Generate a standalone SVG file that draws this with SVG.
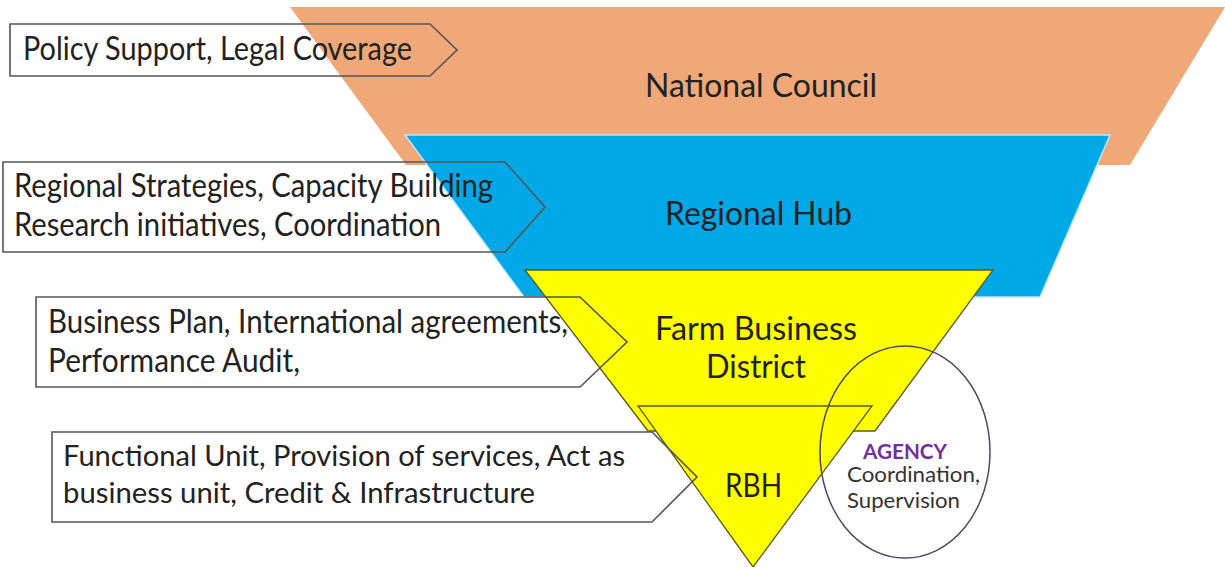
<svg xmlns="http://www.w3.org/2000/svg" width="1225" height="567" viewBox="0 0 1225 567">
<style>
.t{font-family:Lato,"Open Sans","Liberation Sans",sans-serif;fill:#222;font-size:32px}
.u{font-family:Lato,"Open Sans","Liberation Sans",sans-serif;fill:#222;font-size:29px}
.s{font-family:Lato,"Open Sans","Liberation Sans",sans-serif;fill:#333;font-size:21px}
.co{fill:none;stroke:#555;stroke-width:1.6}
.yl{fill:#FFFF00;stroke:#5a5a10;stroke-width:1.3}
</style>
<rect width="1225" height="567" fill="#fff"/>
<g id="national-council">
<polygon points="290,7 1225,7 1130,165 406,165" fill="#F0A878"/>
<text class="t" x="645" y="97" textLength="232" lengthAdjust="spacingAndGlyphs">National Council</text>
</g>
<g id="regional-hub">
<polygon points="405,135 1110,135 1040,297 524,297" fill="#00A8E8" stroke="#bfe6f5" stroke-width="1.5"/>
<text class="t" x="665" y="225" textLength="187" lengthAdjust="spacingAndGlyphs">Regional Hub</text>
</g>
<g id="farm-business-district">
<polygon class="yl" points="525,270 993,270 875,431 648,431"/>
<text class="t" x="655" y="340" textLength="202" lengthAdjust="spacingAndGlyphs">Farm Business</text>
<text class="t" x="706" y="378" textLength="100" lengthAdjust="spacingAndGlyphs">District</text>
</g>
<g id="rbh">
<polygon class="yl" points="638,406 872,406 753,567"/>
<text class="t" x="725" y="497" textLength="57" lengthAdjust="spacingAndGlyphs">RBH</text>
</g>
<g id="agency">
<ellipse cx="905" cy="452" rx="85" ry="106" fill="none" stroke="#4a4a66" stroke-width="1.5"/>
<text class="s" x="863" y="459" textLength="84" lengthAdjust="spacingAndGlyphs" style="fill:#7030A0;font-weight:bold;font-size:20px">AGENCY</text>
<text class="s" x="847" y="482" textLength="133" lengthAdjust="spacingAndGlyphs">Coordination,</text>
<text class="s" x="847" y="508" textLength="113" lengthAdjust="spacingAndGlyphs">Supervision</text>
</g>
<g id="callout-policy">
<polygon class="co" points="10,24 430,24 457,50 430,76 10,76"/>
<text class="t" x="23" y="60" textLength="389" lengthAdjust="spacingAndGlyphs">Policy Support, Legal Coverage</text>
</g>
<g id="callout-regional">
<polygon class="co" points="3,162 505,162 545,207 505,252 3,252"/>
<text class="t" x="14" y="197" textLength="479" lengthAdjust="spacingAndGlyphs">Regional Strategies, Capacity Building</text>
<text class="t" x="14" y="236" textLength="427" lengthAdjust="spacingAndGlyphs">Research initiatives, Coordination</text>
</g>
<g id="callout-business">
<polygon class="co" points="36,297 580,297 627,342 580,387 36,387"/>
<text class="t" x="48" y="333" textLength="520" lengthAdjust="spacingAndGlyphs">Business Plan, International agreements,</text>
<text class="t" x="48" y="372" textLength="252" lengthAdjust="spacingAndGlyphs">Performance Audit,</text>
</g>
<g id="callout-functional">
<polygon class="co" points="52,432 652,432 697,477 652,522 52,522"/>
<text class="u" x="63" y="466" textLength="562" lengthAdjust="spacingAndGlyphs">Functional Unit, Provision of services, Act as</text>
<text class="u" x="63" y="503" textLength="472" lengthAdjust="spacingAndGlyphs">business unit, Credit &amp; Infrastructure</text>
</g>
<g id="connectors"></g>
</svg>
